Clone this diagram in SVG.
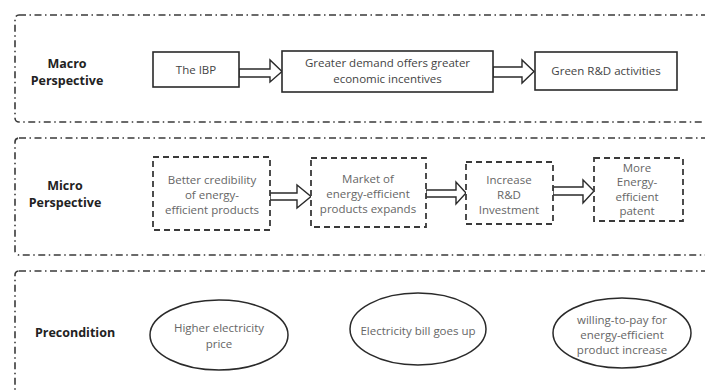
<svg xmlns="http://www.w3.org/2000/svg" width="705" height="390" viewBox="0 0 705 390">
<defs>
<style>
.panel{fill:none;stroke:#3a3a3a;stroke-width:1.6;stroke-dasharray:7 3.5 1.5 3.5}
.solid{fill:#fff;stroke:#2a2a2a;stroke-width:1.6}
.dash{fill:#fff;stroke:#3a3a3a;stroke-width:1.8;stroke-dasharray:6 4}
.ell{fill:#fff;stroke:#2a2a2a;stroke-width:1.5}
.arr{fill:#fff;stroke:#2a2a2a;stroke-width:1.4;stroke-linejoin:miter}
.lbl{font-family:"Open Sans","Noto Sans",sans-serif;font-size:12.5px;font-weight:bold;fill:#222;text-anchor:middle}
.t{font-family:"Open Sans","Noto Sans",sans-serif;font-size:11.5px;fill:#444;text-anchor:middle}
.tg{font-family:"Open Sans","Noto Sans",sans-serif;font-size:11.5px;fill:#666;text-anchor:middle}
</style>
</defs>
<rect width="705" height="390" fill="#fff"/>
<g id="panels">
<rect class="panel" x="15" y="15" width="720" height="107" rx="4"/>
<rect class="panel" x="15" y="138" width="720" height="117" rx="4"/>
<rect class="panel" x="15" y="271" width="720" height="140" rx="4"/>
</g>
<g id="macro-label"><text class="lbl" x="67" y="68">Macro</text><text class="lbl" x="67" y="85">Perspective</text></g>
<g id="micro-label"><text class="lbl" x="65" y="190">Micro</text><text class="lbl" x="65" y="207">Perspective</text></g>
<g id="precondition-label"><text class="lbl" x="75" y="337">Precondition</text></g>
<g id="connectors">
<path class="arr" d="M239 69 H270 V60 L282 71.5 L270 82 V77 H239 Z"/>
<path class="arr" d="M493 67 H522 V60 L534 71.5 L522 83 V77 H493 Z"/>
<path class="arr" d="M270 193 H297 V185 L311 196.5 L297 208 V200 H270 Z"/>
<path class="arr" d="M426 190 H456 V182 L466 193 L456 204 V197 H426 Z"/>
<path class="arr" d="M553 187 H583 V180 L594 191 L583 203 V195 H553 Z"/>
</g>
<g id="n-ibp"><rect class="solid" x="153" y="52" width="86" height="35"/><text class="t" x="196" y="74">The IBP</text></g>
<g id="n-demand"><rect class="solid" x="282" y="51" width="211" height="41"/><text class="t" x="387.5" y="67">Greater demand offers greater</text><text class="t" x="387.5" y="83">economic incentives</text></g>
<g id="n-green"><rect class="solid" x="535" y="52" width="142" height="38"/><text class="t" x="606" y="75">Green R&amp;D activities</text></g>
<g id="n-credibility"><rect class="dash" x="153" y="157" width="117" height="73"/><text class="tg" x="212" y="184">Better credibility</text><text class="tg" x="212" y="199">of  energy-</text><text class="tg" x="212" y="214">efficient products</text></g>
<g id="n-market"><rect class="dash" x="311" y="158" width="115" height="69"/><text class="tg" x="368" y="183">Market of</text><text class="tg" x="368" y="198">energy-efficient</text><text class="tg" x="368" y="213">products expands</text></g>
<g id="n-invest"><rect class="dash" x="466" y="162" width="87" height="62"/><text class="tg" x="509" y="184">Increase</text><text class="tg" x="509" y="199">R&amp;D</text><text class="tg" x="509" y="214">Investment</text></g>
<g id="n-patent"><rect class="dash" x="594" y="158" width="89" height="63"/><text class="tg" x="637" y="172">More</text><text class="tg" x="637" y="186">Energy-</text><text class="tg" x="637" y="201">efficient</text><text class="tg" x="637" y="215">patent</text></g>
<g id="n-price"><ellipse class="ell" cx="219" cy="335" rx="69" ry="35"/><text class="tg" x="219" y="332">Higher electricity</text><text class="tg" x="219" y="348">price</text></g>
<g id="n-bill"><ellipse class="ell" cx="418" cy="329" rx="68" ry="36"/><text class="tg" x="418" y="335">Electricity bill goes up</text></g>
<g id="n-wtp"><ellipse class="ell" cx="622" cy="333" rx="69" ry="35"/><text class="tg" x="622" y="324">willing-to-pay for</text><text class="tg" x="622" y="339">energy-efficient</text><text class="tg" x="622" y="354">product increase</text></g>
</svg>
